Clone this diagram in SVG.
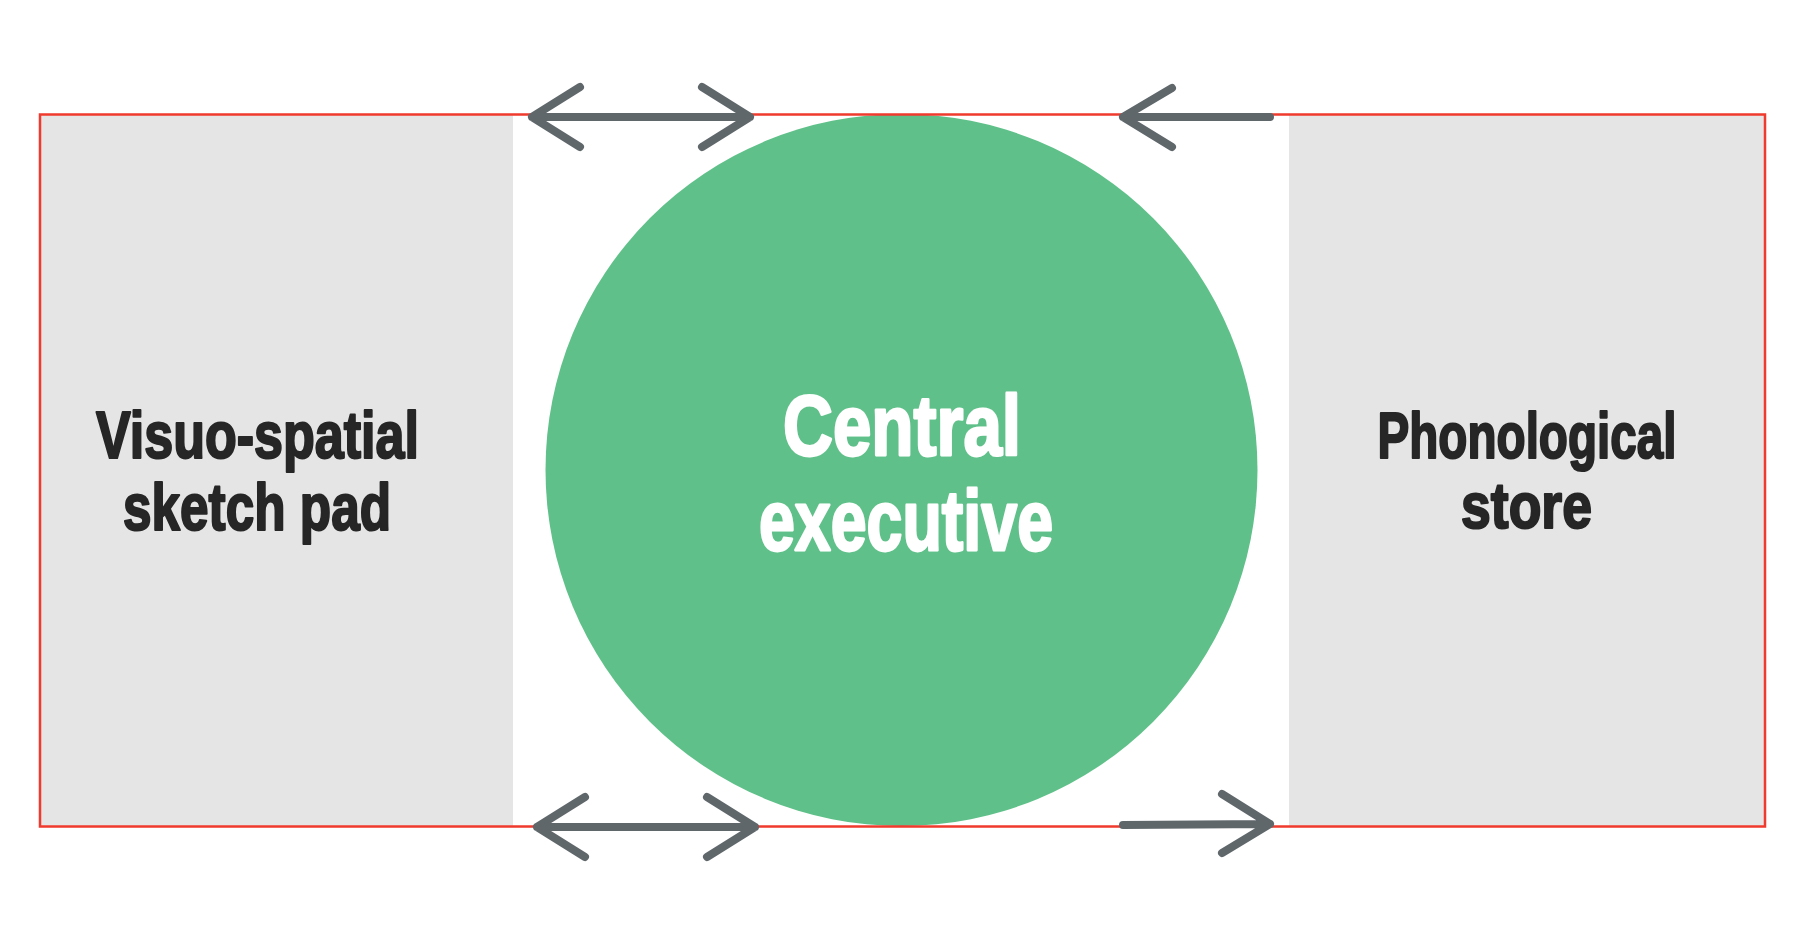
<svg xmlns="http://www.w3.org/2000/svg" width="1802" height="952" viewBox="0 0 1802 952">
<style>
.panel{fill:#e5e5e5}
.lbl{font-family:"Liberation Sans Narrow","Liberation Sans",Arial,sans-serif;font-weight:bold;text-anchor:middle;stroke-linejoin:round}
.dark{fill:#262626;stroke:#262626;stroke-width:2.2}
.white{fill:#ffffff;stroke:#ffffff;stroke-width:2.8}
.arr{fill:none;stroke:#5f676b;stroke-width:8;stroke-linecap:round;stroke-linejoin:round}
</style>
<rect width="1802" height="952" fill="#ffffff"/>
<g id="node-visuo">
<rect class="panel" x="40" y="114.5" width="473" height="712"/>
<text class="lbl dark" x="257.5" y="458" font-size="66" textLength="323" lengthAdjust="spacingAndGlyphs">Visuo-spatial</text>
<text class="lbl dark" x="257" y="530" font-size="66" textLength="268" lengthAdjust="spacingAndGlyphs">sketch pad</text>
</g>
<g id="node-phono">
<rect class="panel" x="1289" y="114.5" width="476" height="712"/>
<text class="lbl dark" x="1527" y="458" font-size="65" textLength="299" lengthAdjust="spacingAndGlyphs">Phonological</text>
<text class="lbl dark" x="1526.5" y="528" font-size="65" textLength="131" lengthAdjust="spacingAndGlyphs">store</text>
</g>
<g id="node-central">
<circle cx="901.5" cy="470" r="356" fill="#5fc189"/>
<text class="lbl white" x="902" y="455" font-size="86" textLength="238" lengthAdjust="spacingAndGlyphs">Central</text>
<text class="lbl white" x="906" y="550" font-size="86" textLength="294" lengthAdjust="spacingAndGlyphs">executive</text>
</g>
<g id="frame">
<rect x="40" y="114.5" width="1725" height="712" fill="none" stroke="#f03a2e" stroke-width="2.5"/>
</g>
<g id="connectors">
<path class="arr" d="M532,117 L750,117 M580,87 L532,117 L580,147 M702,87 L750,117 L702,147"/>
<path class="arr" d="M1270,117 L1123,117 M1172,88 L1123,117 L1172,147"/>
<path class="arr" d="M537,827 L755,827 M585,797 L537,827 L585,857 M707,797 L755,827 L707,857"/>
<path class="arr" d="M1123,825 L1270,824 M1222,794 L1270,824 L1222,853"/>
</g>
</svg>
